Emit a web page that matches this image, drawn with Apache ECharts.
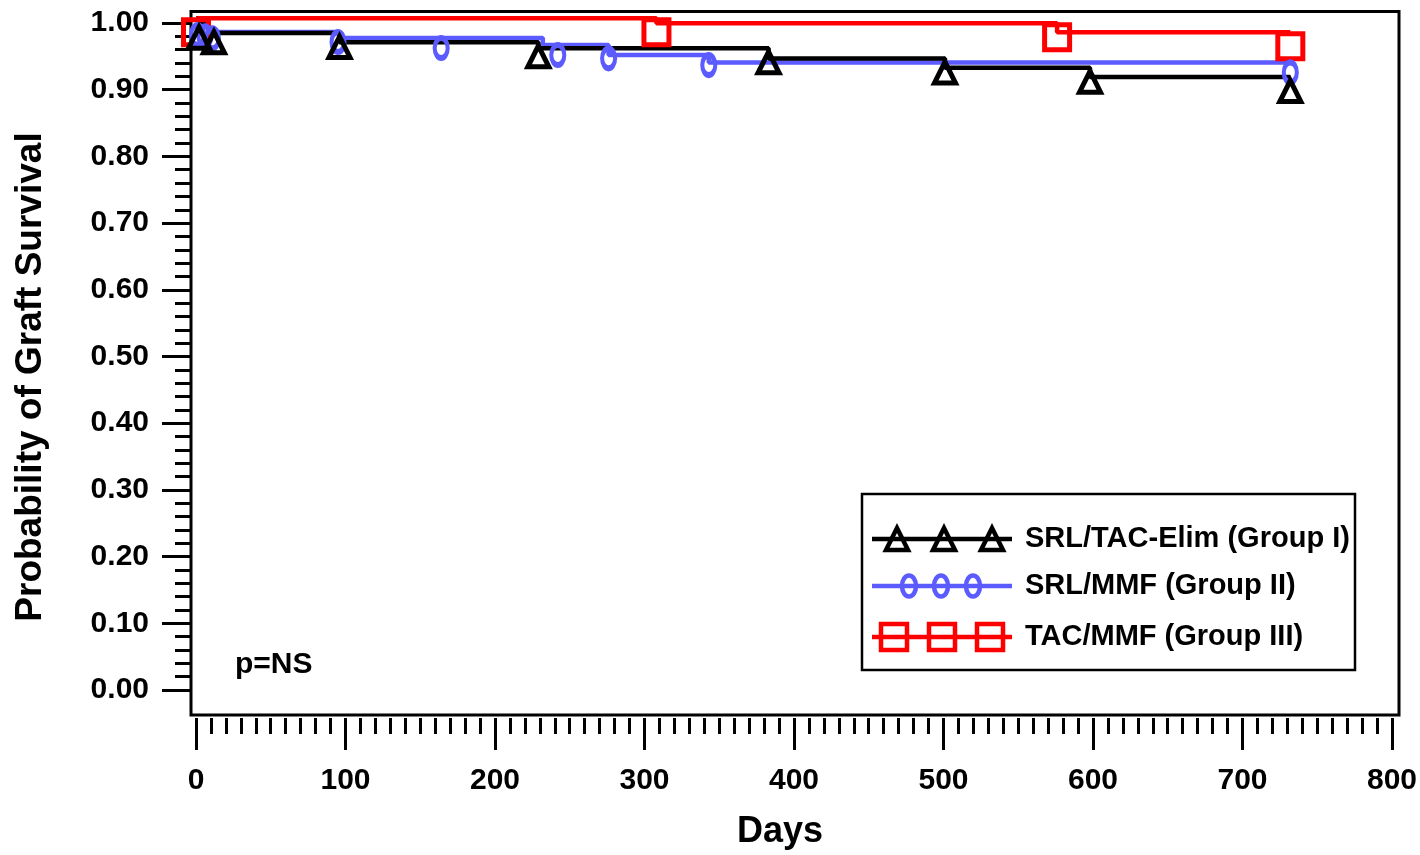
<!DOCTYPE html>
<html>
<head>
<meta charset="utf-8">
<script src="https://cdn.jsdelivr.net/npm/echarts@6/dist/echarts.min.js"></script>
<style>
html,body{margin:0;padding:0;background:#fff;}
#chart{width:1420px;height:855px;}
</style>
</head>
<body>
<div id="chart"></div>
<script>
// ---- Data ----
const seriesNames = ['SRL/TAC-Elim (Group I)', 'SRL/MMF (Group II)', 'TAC/MMF (Group III)'];

// Group I (black, triangles)
const groupIEventDays = [14, 96, 229, 383, 501, 598];
const groupISurvival  = [0.978, 0.964, 0.955, 0.940, 0.926, 0.912];
const groupILastDay = 732;
const groupIMarkDays   = [2, 12, 96, 229, 383, 501, 598, 732];
const groupIMarkValues = [0.992, 0.985, 0.978, 0.964, 0.955, 0.940, 0.926, 0.912];

// Group II (blue, circles)
const groupIIEventDays = [14, 96, 232, 276, 343];
const groupIISurvival  = [0.9795, 0.9705, 0.960, 0.945, 0.934];
const groupIILastDay = 732;
const groupIIMarkDays   = [1, 6, 11, 95, 164, 242, 276, 343, 732];
const groupIIMarkValues = [0.99, 0.988, 0.985, 0.9795, 0.9705, 0.960, 0.955, 0.945, 0.934];

// Group III (red, squares)
const groupIIIEventDays = [308, 576];
const groupIIISurvival  = [0.9925, 0.979];
const groupIIILastDay = 732;
const groupIIIMarkDays   = [0, 308, 576, 732];
const groupIIIMarkValues = [1.0, 1.0, 0.9925, 0.979];

const xTickValues = [0, 100, 200, 300, 400, 500, 600, 700, 800];
const yTickValues = [0, 0.1, 0.2, 0.3, 0.4, 0.5, 0.6, 0.7, 0.8, 0.9, 1.0];
const xAxisTitle = 'Days';
const yAxisTitle = 'Probability of Graft Survival';
const pValueText = 'p=NS';

// ---- Build step paths ----
function kmPath(days, surv, lastDay, firstDiagonal) {
  const pts = [[0, 1.0]];
  let prev = 1.0;
  days.forEach((t, i) => {
    if (!(i === 0 && firstDiagonal)) pts.push([t, prev]);
    pts.push([t, surv[i]]);
    prev = surv[i];
  });
  pts.push([lastDay, prev]);
  return pts;
}
function zip(a, b) { return a.map((v, i) => [v, b[i]]); }

const colors = ['#000000', '#5b5bff', '#ff0000'];
const FONT = '"Liberation Sans", Arial, sans-serif';

const lineData = [
  kmPath(groupIEventDays, groupISurvival, groupILastDay, true),
  kmPath(groupIIEventDays, groupIISurvival, groupIILastDay, true),
  kmPath(groupIIIEventDays, groupIIISurvival, groupIIILastDay, false)
];
const markData = [
  zip(groupIMarkDays, groupIMarkValues),
  zip(groupIIMarkDays, groupIIMarkValues),
  zip(groupIIIMarkDays, groupIIIMarkValues)
];
const symbols = ['triangle', 'circle', 'rect'];
const symbolSizes = [[21, 21], [13, 20], [25, 25]];
const symbolOffsets = [[0, 14], [0, 10], [0, 14]];

const series = [];
[2, 1, 0].forEach(i => {
  series.push({
    name: seriesNames[i], type: 'line', xAxisIndex: 0, yAxisIndex: 0,
    data: lineData[i], showSymbol: false, symbol: 'none',
    lineStyle: { color: colors[i], width: 4.5 }, z: 2 + (2 - i) * 0.1, silent: true
  });
});
[2, 1, 0].forEach(i => {
  series.push({
    name: seriesNames[i], type: 'scatter', xAxisIndex: 0, yAxisIndex: 0,
    data: markData[i], symbol: symbols[i], symbolSize: symbolSizes[i], symbolOffset: symbolOffsets[i],
    itemStyle: { color: 'rgba(0,0,0,0)', borderColor: colors[i], borderWidth: 5, opacity: 1 },
    z: 3, silent: true
  });
});

// ---- Legend, titles and annotation drawn as graphic text ----
const legendX = 862, legendY = 494, legendW = 493, legendH = 176;
const rowY = [539, 586, 637];
const markX = [[897, 944, 992], [909, 941, 973], [894, 942, 990]];
const graphic = [
  { type: 'rect', shape: { x: legendX, y: legendY, width: legendW, height: legendH },
    style: { fill: '#fff', stroke: '#000', lineWidth: 2.5 }, z: 10 }
];
rowY.forEach((y, i) => {
  graphic.push({ type: 'line', shape: { x1: 872, y1: y, x2: 1012, y2: y },
    style: { stroke: colors[i], lineWidth: 4.5 }, z: 11 });
  markX[i].forEach(x => {
    let el;
    if (i === 0) el = { type: 'polygon', shape: { points: [[x - 11, y + 11], [x, y - 11], [x + 11, y + 11]] } };
    else if (i === 1) el = { type: 'ellipse', shape: { cx: x, cy: y, rx: 7, ry: 10.5 } };
    else el = { type: 'rect', shape: { x: x - 13, y: y - 13, width: 26, height: 26 } };
    el.style = { fill: 'rgba(0,0,0,0)', stroke: colors[i], lineWidth: 4.5 };
    el.z = 12;
    graphic.push(el);
  });
  graphic.push({ type: 'text', x: 1025, y: y, z: 12,
    style: { text: seriesNames[i], fill: '#000', font: 'bold 29px ' + FONT, textVerticalAlign: 'middle', textAlign: 'left' } });
});
graphic.push({ type: 'text', x: 235, y: 665, z: 12,
  style: { text: pValueText, fill: '#000', font: 'bold 30px ' + FONT, textVerticalAlign: 'middle', textAlign: 'left' } });
graphic.push({ type: 'text', x: 780, y: 832, z: 12,
  style: { text: xAxisTitle, fill: '#000', font: 'bold 36px ' + FONT, textVerticalAlign: 'middle', textAlign: 'center' } });
graphic.push({ type: 'text', x: 31, y: 377, rotation: Math.PI / 2, z: 12,
  style: { text: yAxisTitle, fill: '#000', font: 'bold 37px ' + FONT, textVerticalAlign: 'middle', textAlign: 'center' } });

const labelStyle = { color: '#000', fontFamily: FONT, fontWeight: 'bold', fontSize: 30 };
const hiddenAxis = (g) => ({ gridIndex: g, type: 'value', min: 0, max: 1, show: false });

const option = {
  animation: false,
  backgroundColor: '#fff',
  grid: [
    // plotting frame
    { left: 191, top: 11.5, width: 1208, height: 703.5, show: true, borderColor: '#000', borderWidth: 3, backgroundColor: 'rgba(0,0,0,0)' },
    // x tick axis (below the frame)
    { left: 196, top: 100, width: 1196, height: 618, show: false },
    // y tick axis (left of the frame)
    { left: 190, top: 23, width: 1000, height: 667, show: false }
  ],
  xAxis: [
    { gridIndex: 0, type: 'value', min: -3.344, max: 804.7, show: false },
    { gridIndex: 1, type: 'value', min: xTickValues[0], max: xTickValues[xTickValues.length - 1], interval: 100,
      position: 'bottom',
      axisLine: { show: false },
      axisTick: { show: true, inside: false, length: 32, lineStyle: { color: '#000', width: 3 } },
      minorTick: { show: true, splitNumber: 10, length: 16, lineStyle: { color: '#000', width: 3 } },
      splitLine: { show: false }, minorSplitLine: { show: false },
      axisLabel: Object.assign({ margin: 48, formatter: v => String(v) }, labelStyle)
    },
    hiddenAxis(2)
  ],
  yAxis: [
    { gridIndex: 0, type: 'value', min: -0.04296, max: 1.01018, show: false },
    hiddenAxis(1),
    { gridIndex: 2, type: 'value', min: yTickValues[0], max: yTickValues[yTickValues.length - 1], interval: 0.1,
      position: 'left',
      axisLine: { show: false },
      axisTick: { show: true, inside: false, length: 28, lineStyle: { color: '#000', width: 3 } },
      minorTick: { show: true, splitNumber: 5, length: 15, lineStyle: { color: '#000', width: 3 } },
      splitLine: { show: false }, minorSplitLine: { show: false },
      axisLabel: Object.assign({ margin: 41, formatter: v => v.toFixed(2) }, labelStyle)
    }
  ],
  series: series,
  graphic: graphic
};

const chart = echarts.init(document.getElementById('chart'), null, { renderer: 'canvas' });
chart.setOption(option);
</script>
</body>
</html>
